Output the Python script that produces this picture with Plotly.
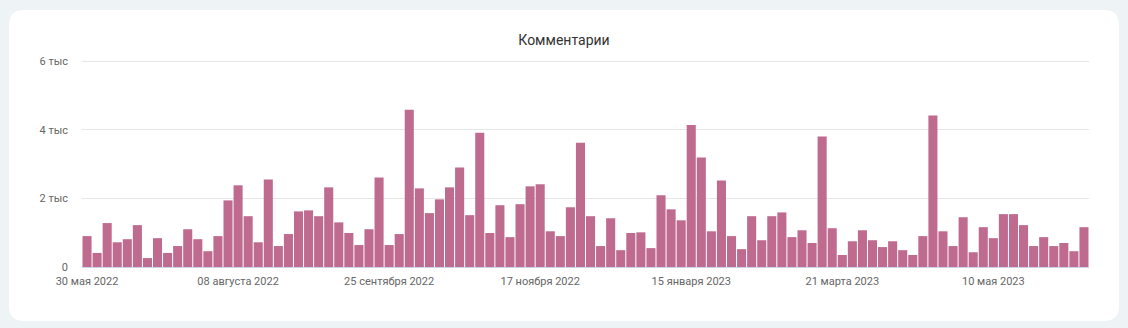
import plotly.graph_objects as go

# --- data ---
values = [
    900, 410, 1280, 720, 810, 1220, 260, 840, 410, 610,
    1100, 810, 460, 900, 1940, 2380, 1480, 720, 2550, 610,
    960, 1620, 1650, 1480, 2320, 1300, 990, 640, 1100, 2610,
    640, 960, 4580, 2290, 1570, 1970, 2320, 2900, 1510, 3910,
    990, 1800, 870, 1830, 2350, 2410, 1040, 900, 1740, 3620,
    1480, 610, 1420, 490, 990, 1010, 550, 2090, 1680, 1360,
    4140, 3190, 1040, 2520, 900, 520, 1480, 780, 1480, 1590,
    870, 1070, 700, 3800, 1130, 350, 750, 1070, 780, 580,
    750, 490, 350, 900, 4410, 1040, 610, 1450, 430, 1160,
    840, 1540, 1540, 1220, 610, 870, 610, 700, 460, 1160,
]
categories = list(range(len(values)))
x_tick_positions = [0, 15, 30, 45, 60, 75, 90]
x_tick_labels = ["30 мая 2022", "08 августа 2022", "25 сентября 2022",
                 "17 ноября 2022", "15 января 2023", "21 марта 2023", "10 мая 2023"]
y_tick_values = [0, 2000, 4000, 6000]
y_tick_labels = ["0", "2 тыс", "4 тыс", "6 тыс"]
title_text = "Комментарии"

# --- layout geometry (pixels) ---
W, H = 1128, 328
L, R, T, B = 82, 39, 60, 61
pw, ph = W - L - R, H - T - B

def px_x(x):
    return (x - L) / pw

def px_y(y):
    return (H - B - y) / ph

def rounded_rect(x0, y0, x1, y1, r):
    X0, X1 = px_x(x0), px_x(x1)
    Y0, Y1 = px_y(y0), px_y(y1)  # Y0 top, Y1 bottom
    rx, ry = r / pw, r / ph
    return (f"M {X0+rx},{Y0} L {X1-rx},{Y0} Q {X1},{Y0} {X1},{Y0-ry} "
            f"L {X1},{Y1+ry} Q {X1},{Y1} {X1-rx},{Y1} "
            f"L {X0+rx},{Y1} Q {X0},{Y1} {X0},{Y1+ry} "
            f"L {X0},{Y0-ry} Q {X0},{Y0} {X0+rx},{Y0} Z")

font_family = "Roboto, 'Liberation Sans', Arial, sans-serif"

fig = go.Figure()
fig.add_trace(go.Bar(
    x=categories, y=values,
    marker=dict(color="#bf6b8f", line=dict(width=0)),
    hoverinfo="y",
))

fig.update_layout(
    width=W, height=H,
    margin=dict(l=L, r=R, t=T, b=B, pad=0),
    paper_bgcolor="#eef3f6",
    plot_bgcolor="rgba(0,0,0,0)",
    bargap=0.1,
    showlegend=False,
    font=dict(family=font_family, size=11, color="#666666"),
    title=dict(text=title_text, x=0.5, xref="container", xanchor="center",
               y=1 - 40.5 / H, yref="container", yanchor="middle",
               font=dict(family=font_family, size=14, color="#333333")),
    shapes=[dict(type="path", xref="paper", yref="paper",
                 path=rounded_rect(9, 10, 1119, 321, 15),
                 fillcolor="#ffffff", line=dict(width=0), layer="below")],
    xaxis=dict(
        range=[-0.5, len(values) - 0.5],
        tickmode="array", tickvals=x_tick_positions, ticktext=x_tick_labels,
        showgrid=False, zeroline=False,
        showline=True, linecolor="#ccd6eb", linewidth=1,
        ticks="", ticklabelstandoff=4,
        tickfont=dict(size=11, color="#666666"),
        fixedrange=True,
    ),
    yaxis=dict(
        range=[0, 6030],
        tickmode="array", tickvals=y_tick_values, ticktext=y_tick_labels,
        showgrid=True, gridcolor="#e6e6e6", gridwidth=1,
        zeroline=False, showline=False,
        ticks="", ticklabelstandoff=13,
        tickfont=dict(size=11, color="#666666"),
        fixedrange=True,
    ),
)

fig.write_html("out.html", config={"displayModeBar": False})
